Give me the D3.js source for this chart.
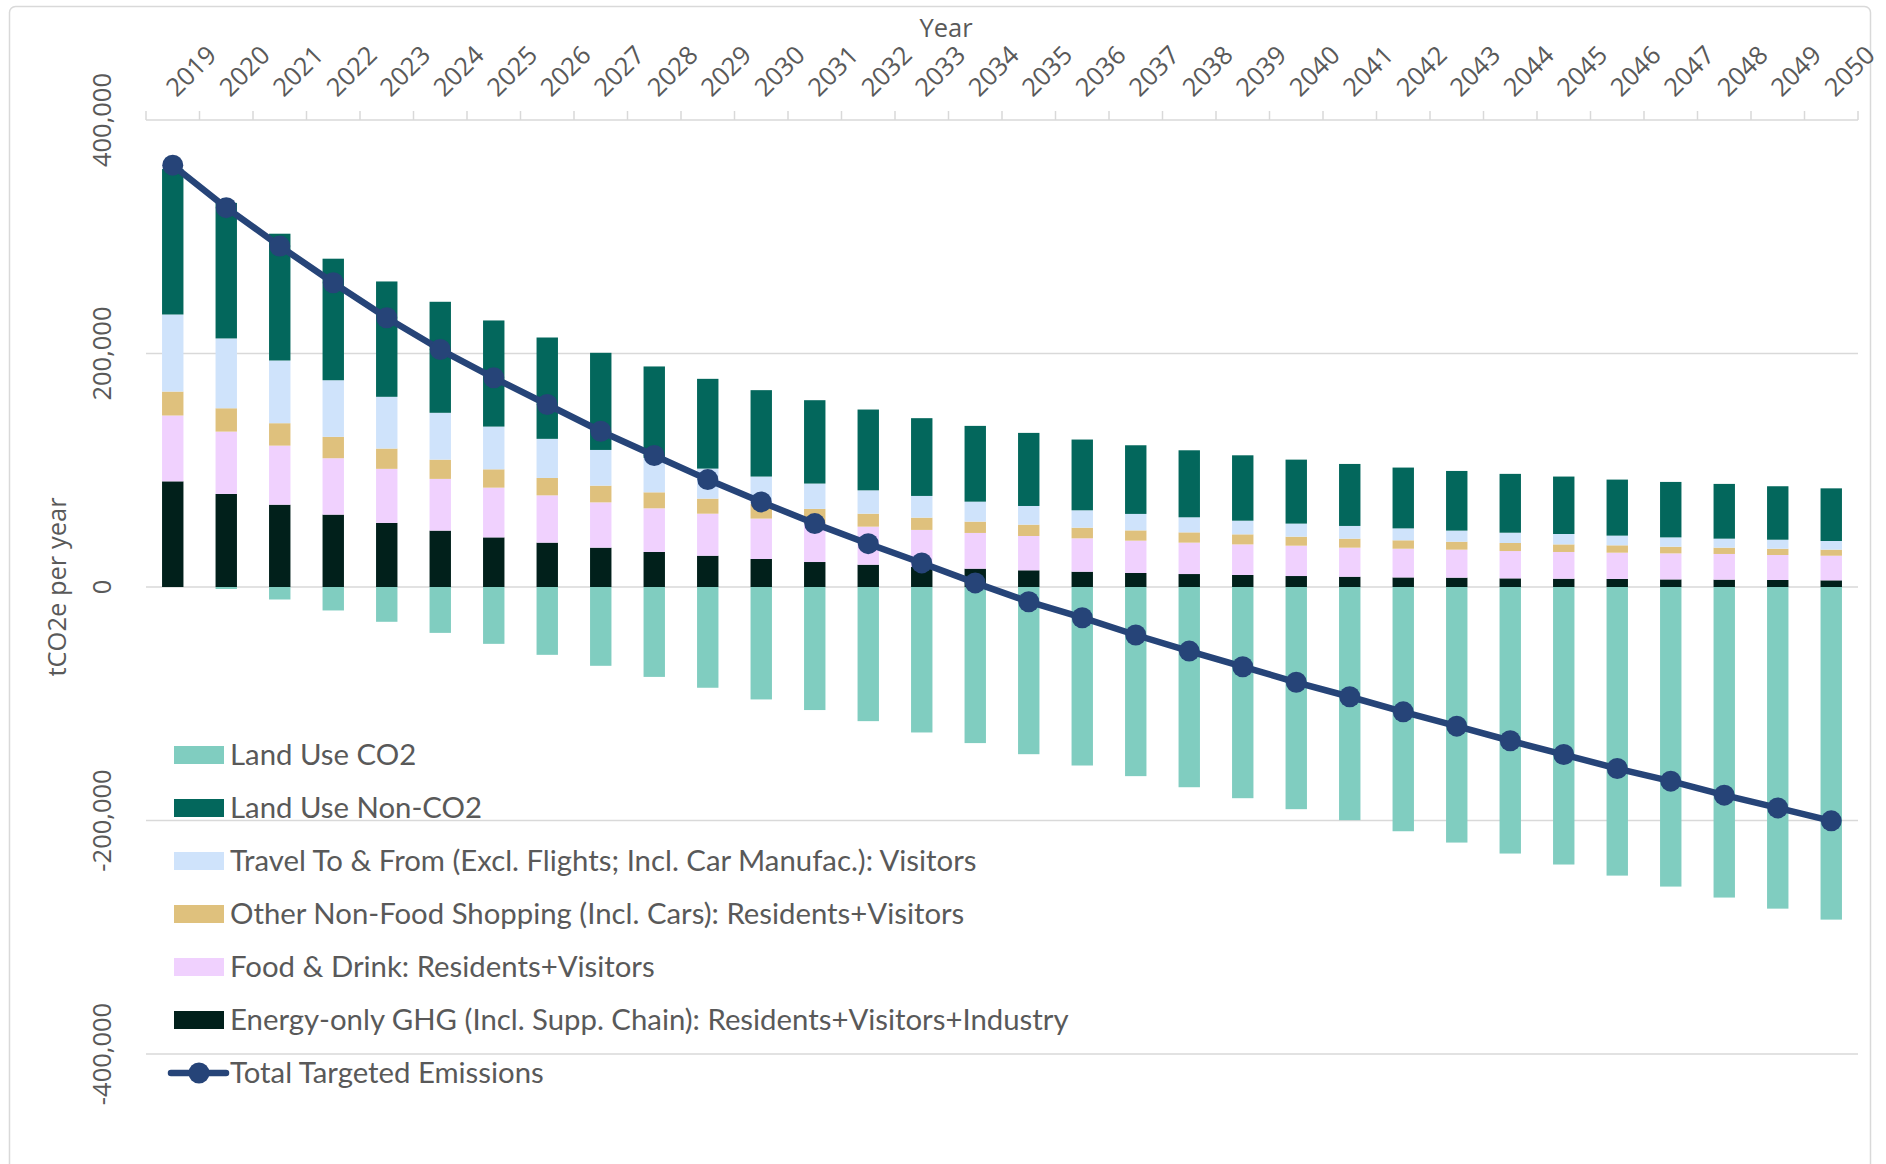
<!DOCTYPE html>
<html>
<head>
<meta charset="utf-8">
<script src="https://cdn.jsdelivr.net/npm/d3@7"></script>
<style>
  html, body { margin: 0; padding: 0; background: #fff; }
  svg { display: block; }
</style>
</head>
<body>
<svg id="chart" width="1886" height="1164"></svg>
<script>
// ---------------- DATA ----------------
const years = d3.range(2019, 2051).map(String);

const energyGHG = [90500, 79700, 70500, 62000, 54900, 48300, 42500, 38000, 33700, 30000, 26800, 24000, 21400, 19100, 17400, 15700, 14300, 13100, 12000, 11100, 10300, 9400, 8800, 8200, 8000, 7400, 7100, 6900, 6500, 6300, 6000, 5700];
const foodDrink = [56400, 53400, 50600, 48300, 46300, 44300, 42600, 40500, 38800, 37400, 36000, 34600, 33000, 32600, 31500, 30600, 29400, 28600, 27700, 26900, 26200, 26000, 24900, 24600, 24000, 23400, 22900, 22500, 22300, 22000, 21400, 21100];
const otherShopping = [20500, 20000, 19200, 18300, 17400, 16500, 15700, 14900, 14300, 13700, 12900, 12500, 12500, 11100, 10500, 9700, 9700, 9100, 8800, 8800, 8600, 7700, 7700, 7200, 6800, 6900, 6500, 6300, 5700, 5400, 5400, 5200];
const travelVisitors = [66000, 59800, 53700, 48500, 44300, 40100, 36600, 33500, 30600, 29500, 25700, 23500, 21700, 20000, 18600, 17100, 16000, 14900, 14100, 12900, 11700, 11200, 10900, 10200, 9500, 8800, 8900, 8300, 8000, 7700, 7700, 7400];
const landUseNonCO2 = [124600, 116100, 108600, 104100, 98800, 95100, 90900, 86800, 83200, 78300, 76900, 74000, 71400, 69200, 66600, 64900, 62600, 60600, 58800, 57400, 56000, 54800, 53100, 52100, 51100, 50400, 49200, 48000, 47500, 46900, 45800, 45100];
const landUseCO2 = [0, -1700, -10700, -20100, -29800, -39300, -48700, -58100, -67500, -77000, -86300, -96300, -105400, -114900, -124600, -133700, -143200, -152900, -162000, -171500, -180900, -190300, -199700, -209200, -218900, -228300, -237700, -247200, -256600, -266000, -275500, -284900];
const totalTargeted = [361300, 324900, 292000, 260600, 230600, 203400, 179200, 156300, 133400, 112600, 92000, 72900, 54300, 37100, 20600, 3500, -12600, -26300, -41100, -54900, -68300, -81600, -94000, -106900, -119200, -131700, -143500, -155500, -166300, -178300, -189200, -200300];

const yTicks = [400000, 200000, 0, -200000, -400000];

const stackSeries = [
  { name: "Energy-only GHG (Incl. Supp. Chain): Residents+Visitors+Industry", values: energyGHG, color: "#01201B" },
  { name: "Food & Drink: Residents+Visitors", values: foodDrink, color: "#F0D1FE" },
  { name: "Other Non-Food Shopping (Incl. Cars): Residents+Visitors", values: otherShopping, color: "#DFC17D" },
  { name: "Travel To & From (Excl. Flights; Incl. Car Manufac.): Visitors", values: travelVisitors, color: "#CFE3FB" },
  { name: "Land Use Non-CO2", values: landUseNonCO2, color: "#03675C" }
];
const negSeries = { name: "Land Use CO2", values: landUseCO2, color: "#80CDC0" };
const lineSeries = { name: "Total Targeted Emissions", values: totalTargeted, color: "#264478" };

const legendOrder = [negSeries, stackSeries[4], stackSeries[3], stackSeries[2], stackSeries[1], stackSeries[0]];

// ---------------- LAYOUT ----------------
const W = 1886, H = 1164;
const plot = { left: 146, right: 1858, top: 120, bottom: 1054 };
const textColor = "#595959";
const gridColor = "#D9D9D9";
const axisFont = "'Open Sans', 'DejaVu Sans', sans-serif";
const legendFont = "Lato, 'Open Sans', sans-serif";

const svg = d3.select("#chart");

svg.append("rect").attr("x", 0).attr("y", 0).attr("width", W).attr("height", H).attr("fill", "#fff");
// chart border
svg.append("rect")
  .attr("x", 9.5).attr("y", 6.5)
  .attr("width", 1861).attr("height", 1200)
  .attr("rx", 6)
  .attr("fill", "none").attr("stroke", gridColor).attr("stroke-width", 1.5);

const x = d3.scaleBand().domain(years).range([plot.left, plot.right]).paddingInner(0.6).paddingOuter(0.3);
const xCat = d3.scaleBand().domain(years).range([plot.left, plot.right]).padding(0);
const y = d3.scaleLinear().domain([-400000, 400000]).range([plot.bottom, plot.top]);

// gridlines
svg.append("g").selectAll("line").data(yTicks.filter(v => v !== 400000)).join("line")
  .attr("x1", plot.left).attr("x2", plot.right)
  .attr("y1", d => y(d)).attr("y2", d => y(d))
  .attr("stroke", gridColor).attr("stroke-width", 1.5);

// y tick labels (rotated)
svg.append("g").selectAll("text").data(yTicks).join("text")
  .attr("transform", d => `translate(111,${y(d)}) rotate(-90)`)
  .attr("text-anchor", "middle")
  .attr("font-family", axisFont).attr("font-size", 25.5)
  .attr("fill", textColor)
  .text(d => d3.format(",")(d).replace("−", "-"));

// y title
svg.append("text")
  .attr("transform", `translate(66,${(plot.top + plot.bottom) / 2}) rotate(-90)`)
  .attr("text-anchor", "middle")
  .attr("font-family", axisFont).attr("font-size", 25.5)
  .attr("fill", textColor)
  .text("tCO2e per year");

// bars: stacked positive
const stackData = years.map((yr, i) => {
  const o = { year: yr };
  stackSeries.forEach((s, k) => o["s" + k] = s.values[i]);
  return o;
});
const stacked = d3.stack().keys(stackSeries.map((s, k) => "s" + k))(stackData);

const barsG = svg.append("g");
barsG.selectAll("g.neg").data([negSeries]).join("g").attr("class", "neg")
  .attr("fill", d => d.color)
  .selectAll("rect").data(d => d.values.map((v, i) => ({ v, yr: years[i] }))).join("rect")
  .attr("x", d => x(d.yr)).attr("width", x.bandwidth())
  .attr("y", d => y(Math.max(0, d.v))).attr("height", d => Math.abs(y(d.v) - y(0)));

barsG.selectAll("g.pos").data(stacked).join("g").attr("class", "pos")
  .attr("fill", (d, k) => stackSeries[k].color)
  .selectAll("rect").data(d => d).join("rect")
  .attr("x", d => x(d.data.year)).attr("width", x.bandwidth())
  .attr("y", d => y(d[1])).attr("height", d => y(d[0]) - y(d[1]));

// top category axis
const axisG = svg.append("g");
axisG.append("line")
  .attr("x1", plot.left).attr("x2", plot.right)
  .attr("y1", plot.top).attr("y2", plot.top)
  .attr("stroke", gridColor).attr("stroke-width", 1.5);
const tickPos = years.map(yr => xCat(yr)).concat([plot.right]);
axisG.selectAll("line.tick").data(tickPos).join("line").attr("class", "tick")
  .attr("x1", d => d).attr("x2", d => d)
  .attr("y1", plot.top).attr("y2", plot.top - 9)
  .attr("stroke", gridColor).attr("stroke-width", 1.5);
axisG.selectAll("text").data(years).join("text")
  .attr("transform", d => `translate(${xCat(d) + xCat.bandwidth() / 2 + 4},${98}) rotate(-45)`)
  .attr("text-anchor", "start")
  .attr("font-family", axisFont).attr("font-size", 25.5)
  .attr("fill", textColor)
  .text(d => d);

// x title
svg.append("text")
  .attr("x", 946).attr("y", 37)
  .attr("text-anchor", "middle")
  .attr("font-family", axisFont).attr("font-size", 25.5)
  .attr("fill", textColor)
  .text("Year");

// line series
const lineGen = d3.line().x((d, i) => x(years[i]) + x.bandwidth() / 2).y(d => y(d));
svg.append("path").datum(lineSeries.values)
  .attr("d", lineGen).attr("fill", "none")
  .attr("stroke", lineSeries.color).attr("stroke-width", 6.5).attr("stroke-linejoin", "round");
svg.append("g").selectAll("circle").data(lineSeries.values).join("circle")
  .attr("cx", (d, i) => x(years[i]) + x.bandwidth() / 2)
  .attr("cy", d => y(d)).attr("r", 10.5)
  .attr("fill", lineSeries.color);

// legend
const legend = svg.append("g");
const lg0 = { x: 174, y: 755, step: 53 };
const legendItems = legendOrder.map(s => ({ name: s.name, color: s.color, type: "rect" }))
  .concat([{ name: lineSeries.name, color: lineSeries.color, type: "line" }]);

// choose font size so longest label fits the reference width
const probe = svg.append("text").attr("font-family", legendFont).attr("font-size", 32)
  .text(stackSeries[0].name);
const probeW = probe.node().getComputedTextLength();
probe.remove();
const legendSize = Math.min(32, 32 * 839 / probeW);

const li = legend.selectAll("g").data(legendItems).join("g")
  .attr("transform", (d, i) => `translate(${lg0.x},${lg0.y + i * lg0.step})`);
li.filter(d => d.type === "rect").append("rect")
  .attr("x", 0).attr("y", -9).attr("width", 50).attr("height", 18)
  .attr("fill", d => d.color);
li.filter(d => d.type === "line").append("line")
  .attr("x1", -3).attr("x2", 52).attr("y1", 0).attr("y2", 0)
  .attr("stroke", d => d.color).attr("stroke-width", 6.5).attr("stroke-linecap", "round");
li.filter(d => d.type === "line").append("circle")
  .attr("cx", 25).attr("cy", 0).attr("r", 10.5).attr("fill", d => d.color);
li.append("text")
  .attr("x", 56).attr("y", 0).attr("dy", "0.35em")
  .attr("font-family", legendFont).attr("font-size", legendSize)
  .attr("fill", textColor)
  .text(d => d.name);
</script>
</body>
</html>
